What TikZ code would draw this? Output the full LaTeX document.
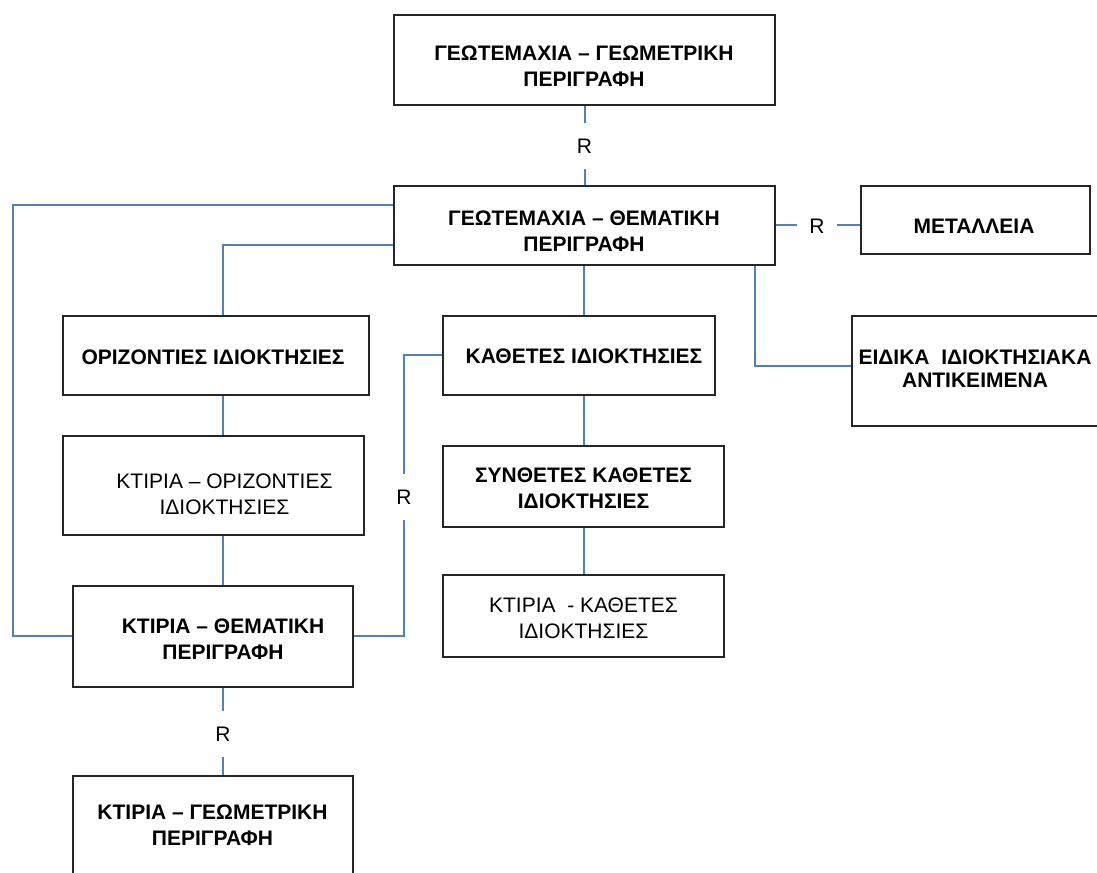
\documentclass[tikz,border=0pt]{standalone}
\usepackage{fontspec}
\setmainfont{Liberation Sans}
\usetikzlibrary{fit}
\definecolor{linkblue}{HTML}{4F81BD}
\tikzset{
  box/.style={draw=black!85, line width=1.1pt, inner sep=0pt},
  ttl/.style={align=center, inner sep=0pt, font=\fontsize{15.75}{19.3}\selectfont\bfseries},
  txt/.style={align=center, inner sep=0pt, font=\fontsize{15.75}{19.3}\selectfont},
  rel/.style={inner xsep=9pt, inner ysep=11.6pt, text height=11.3pt, text depth=0pt, font=\fontsize{15.75}{19.3}\selectfont},
  link/.style={draw=linkblue, line width=1.5pt}
}
\begin{document}
\begin{tikzpicture}[x=0.75pt, y=-0.75pt]
	\useasboundingbox (0,0) rectangle (1097,873);
	\clip (0,0) rectangle (1097,873);
	%% boxes
	\node[box, fit={(394,15) (775,105)}] (geoA) {};
	\node[box, fit={(394,186) (775,265)}] (geoB) {};
	\node[box, fit={(861,186) (1090,254)}] (metal) {};
	\node[box, fit={(852,316) (1120,426)}] (eid) {};
	\node[box, fit={(63,316) (369,395)}] (oriz) {};
	\node[box, fit={(63,436) (364,535)}] (ktO) {};
	\node[box, fit={(73,586) (353,687)}] (ktT) {};
	\node[box, fit={(73,776) (353,890)}] (ktG) {};
	\node[box, fit={(443,316) (715,395)}] (kath) {};
	\node[box, fit={(443,446) (724,527)}] (synth) {};
	\node[box, fit={(443,575) (724,657)}] (ktK) {};
	%% texts
	\node[ttl] (geoAt) at (584,66) {ΓΕΩΤΕΜΑΧΙΑ – ΓΕΩΜΕΤΡΙΚΗ\\ΠΕΡΙΓΡΑΦΗ};
	\node[ttl] (geoBt) at (584,231) {ΓΕΩΤΕΜΑΧΙΑ – ΘΕΜΑΤΙΚΗ\\ΠΕΡΙΓΡΑΦΗ};
	\node[ttl] (metalt) at (974,226) {ΜΕΤΑΛΛΕΙΑ};
	\node[ttl, font=\fontsize{15.75}{17.3}\selectfont\bfseries] (eidt) at (975,368.5) {ΕΙΔΙΚΑ\ \ ΙΔΙΟΚΤΗΣΙΑΚΑ\\ΑΝΤΙΚΕΙΜΕΝΑ};
	\node[ttl] (orizt) at (213,357) {ΟΡΙΖΟΝΤΙΕΣ ΙΔΙΟΚΤΗΣΙΕΣ};
	\node[txt] (ktOt) at (224.5,494) {ΚΤΙΡΙΑ – ΟΡΙΖΟΝΤΙΕΣ\\ΙΔΙΟΚΤΗΣΙΕΣ};
	\node[ttl] (ktTt) at (223,639.5) {ΚΤΙΡΙΑ – ΘΕΜΑΤΙΚΗ\\ΠΕΡΙΓΡΑΦΗ};
	\node[ttl] (ktGt) at (212.5,825) {ΚΤΙΡΙΑ – ΓΕΩΜΕΤΡΙΚΗ\\ΠΕΡΙΓΡΑΦΗ};
	\node[ttl] (katht) at (584,356) {ΚΑΘΕΤΕΣ ΙΔΙΟΚΤΗΣΙΕΣ};
	\node[ttl] (syntht) at (583.5,488.5) {ΣΥΝΘΕΤΕΣ ΚΑΘΕΤΕΣ\\ΙΔΙΟΚΤΗΣΙΕΣ};
	\node[txt] (ktKt) at (583.5,618.5) {ΚΤΙΡΙΑ\ \ - ΚΑΘΕΤΕΣ\\ΙΔΙΟΚΤΗΣΙΕΣ};
	%% relation labels
	\node[rel] (rT) at (584.5,146) {R};
	\node[rel] (rM) at (817,225.5) {R};
	\node[rel] (rL) at (404,497) {R};
	\node[rel] (rB) at (223,734) {R};
	%% spines
	\coordinate (edge) at (13,0);
	\coordinate (spL) at (223,0);
	\coordinate (spM) at (584,0);
	\coordinate (spR) at (755,0);
	\coordinate (geoBup) at ([yshift=15pt]geoB.west);
	\coordinate (geoBlo) at ([yshift=-15pt]geoB.west);
	\coordinate (eidin) at ([yshift=4pt]eid.west);
	%% connectors
	\draw[link] (geoA) -- (rT) -- (geoB);
	\draw[link] (geoB.east) -- (rM) -- (metal.west |- rM);
	\draw[link] (geoBup) -- (geoBup -| edge) |- (ktT.west);
	\draw[link] (geoBlo) -| (spL |- oriz.north);
	\draw[link] (spL |- oriz.south) -- (spL |- ktO.north);
	\draw[link] (spL |- ktO.south) -- (spL |- ktT.north);
	\draw[link] (spL |- ktT.south) -- (rB) -- (spL |- ktG.north);
	\draw[link] (spM |- geoB.south) -- (spM |- kath.north);
	\draw[link] (spM |- kath.south) -- (spM |- synth.north);
	\draw[link] (spM |- synth.south) -- (spM |- ktK.north);
	\draw[link] (spR |- geoB.south) |- (eidin);
	\draw[link] (kath.west) -| (rL) |- (ktT.east);
\end{tikzpicture}
\end{document}
